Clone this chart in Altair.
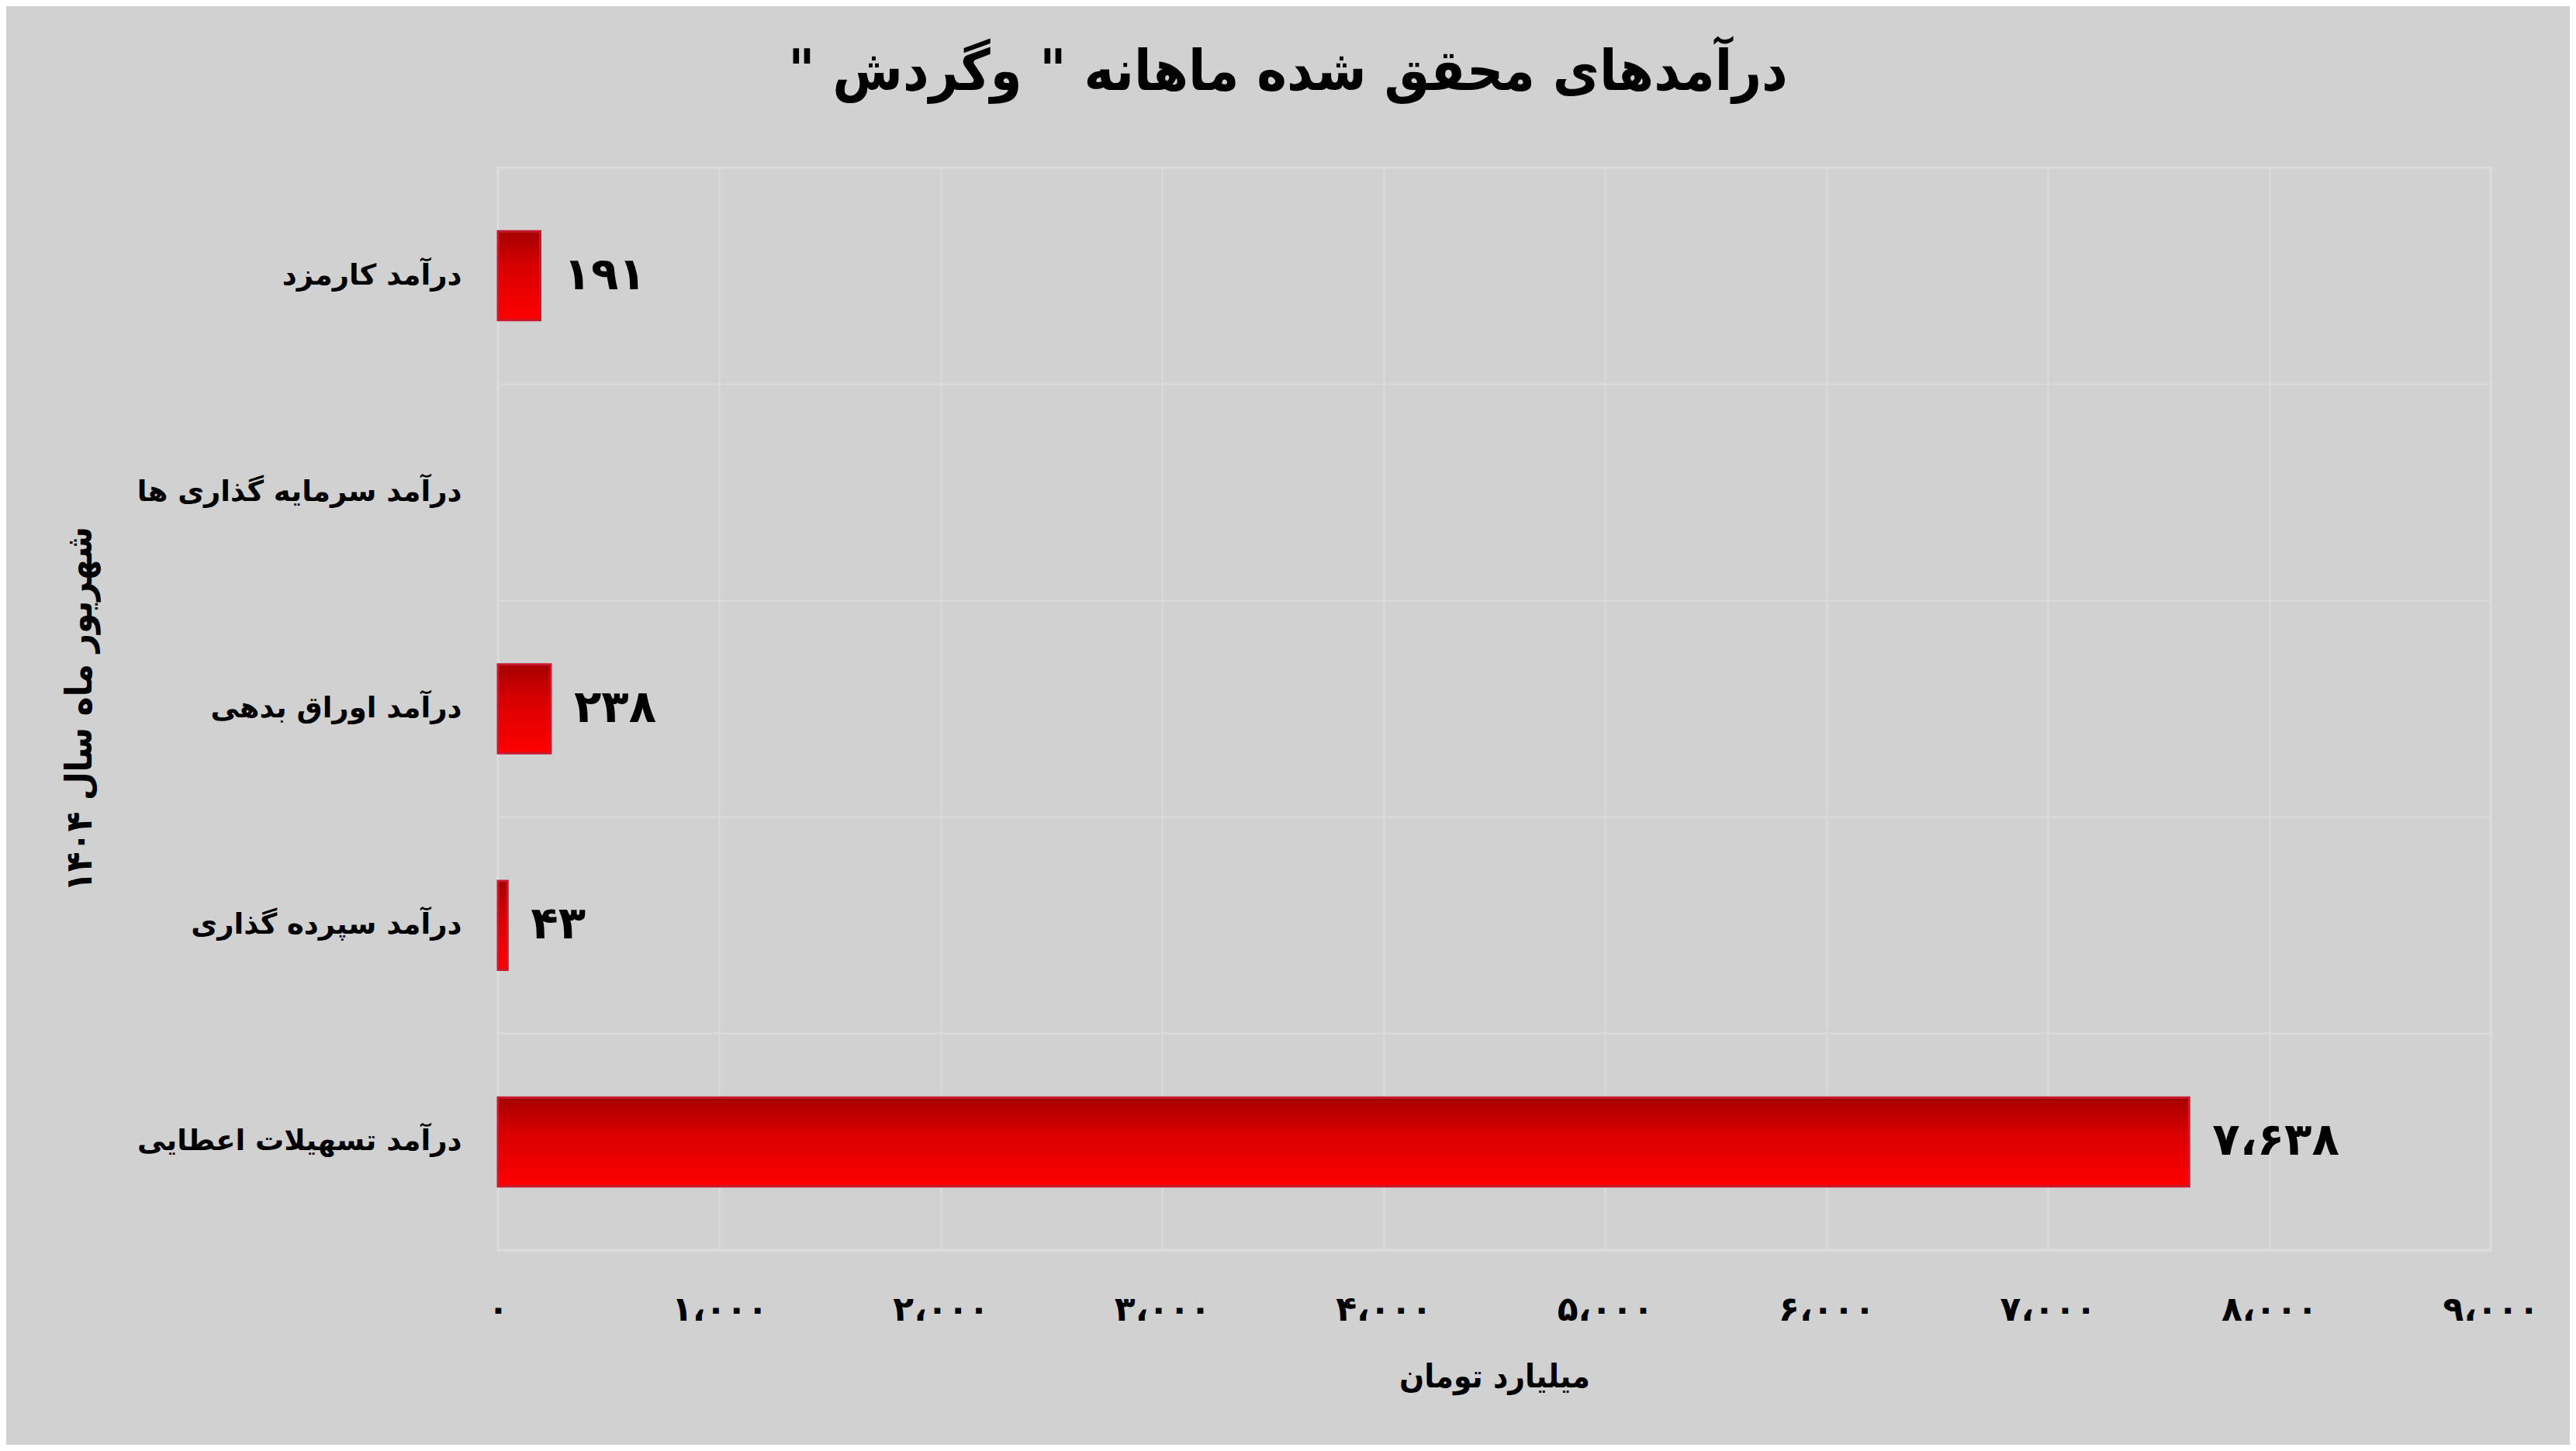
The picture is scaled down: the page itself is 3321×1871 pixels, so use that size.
import json
import altair as alt
import pandas as pd

# ---- data ----
categories = [
    "درآمد کارمزد",
    "درآمد سرمایه گذاری ها",
    "درآمد اوراق بدهی",
    "درآمد سپرده گذاری",
    "درآمد تسهیلات اعطایی",
]
values = [191, 0, 238, 43, 7638]
x_ticks = [0, 1000, 2000, 3000, 4000, 5000, 6000, 7000, 8000, 9000]
x_tick_labels = ["۰", "۱،۰۰۰", "۲،۰۰۰", "۳،۰۰۰", "۴،۰۰۰",
                 "۵،۰۰۰", "۶،۰۰۰", "۷،۰۰۰", "۸،۰۰۰", "۹،۰۰۰"]

title_text = "\u200fدرآمدهای محقق شده ماهانه \" وگردش \"\u200f"
x_title = "میلیارد تومان"
y_title = "شهریور ماه سال ۱۴۰۴"

PERSIAN = str.maketrans("0123456789,", "۰۱۲۳۴۵۶۷۸۹،")


def fa(v):
    return format(v, ",").translate(PERSIAN)


df = pd.DataFrame({
    "cat": categories,
    "value": values,
    "label": [fa(v) if v > 0 else "" for v in values],
})

BG = "#d1d1d1"
GRID = "#dbdbdb"
FONT = "DejaVu Sans"
FONT_C = "DejaVu Sans Condensed, DejaVu Sans"

gradient = alt.LinearGradient(
    gradient="linear",
    stops=[
        alt.GradientStop(color="#a60000", offset=0),
        alt.GradientStop(color="#d80000", offset=0.4),
        alt.GradientStop(color="#ff0000", offset=1),
    ],
    x1=0, x2=0, y1=0, y2=1,
)

y_scale = alt.Scale(domain=categories, paddingInner=0, paddingOuter=0)

y_enc = alt.Y(
    "cat:N",
    sort=categories,
    scale=y_scale,
    axis=alt.Axis(
        title=y_title,
        titleFont=FONT_C,
        titleFontSize=47,
        titleFontWeight="bold",
        titleColor="#000000",
        titleAngle=-90,
        titleX=-539,
        titleY=698,
        titleAlign="center",
        titleBaseline="middle",
        labelFont=FONT,
        labelFontSize=37,
        labelFontWeight="bold",
        labelColor="#000000",
        labelPadding=47,
        labelLimit=1000,
        ticks=False,
        domain=False,
        grid=True,
        gridColor=GRID,
        gridWidth=2,
        bandPosition=0,
    ),
)

x_enc = alt.X(
    "value:Q",
    scale=alt.Scale(domain=[0, 9000], nice=False, zero=True),
    axis=alt.Axis(
        title=x_title,
        titleFont=FONT_C,
        titleFontSize=42,
        titleFontWeight="bold",
        titleColor="#000000",
        titlePadding=44,
        values=x_ticks,
        labelExpr=json.dumps(x_tick_labels, ensure_ascii=False) + "[round(datum.value/1000)]",
        labelFont=FONT,
        labelFontSize=44,
        labelFontWeight="bold",
        labelColor="#000000",
        labelPadding=55,
        labelFlush=False,
        labelOverlap=False,
        ticks=False,
        domain=False,
        grid=True,
        gridColor=GRID,
        gridWidth=2,
    ),
)

bars = alt.Chart(df).transform_filter("datum.value > 0").mark_bar(
    height={"band": 0.41},
    color=gradient,
    stroke="#c8192e",
    strokeWidth=3,
).encode(x=x_enc, y=y_enc)

text = alt.Chart(df).transform_filter("datum.value > 0").mark_text(
    align="left",
    baseline="middle",
    dx=30,
    font=FONT,
    fontSize=58,
    fontWeight="bold",
    color="#000000",
).encode(x="value:Q", y=alt.Y("cat:N", sort=categories, scale=y_scale), text="label:N")

chart = (
    alt.layer(bars, text)
    .properties(
        width=2569,
        height=1396,
        title=alt.TitleParams(
            text=title_text,
            font=FONT_C,
            fontSize=73,
            fontWeight="bold",
            color="#000000",
            anchor="middle",
            dx=-266,
            offset=27,
            baseline="alphabetic",
        ),
        autosize=alt.AutoSizeParams(type="none"),
        padding={"left": 634, "top": 208, "right": 102, "bottom": 251},
    )
    .configure(background=BG)
    .configure_view(stroke="#dddddd", strokeWidth=3)
)

chart.save("out.html", embed_options={"renderer": "svg", "actions": False})
